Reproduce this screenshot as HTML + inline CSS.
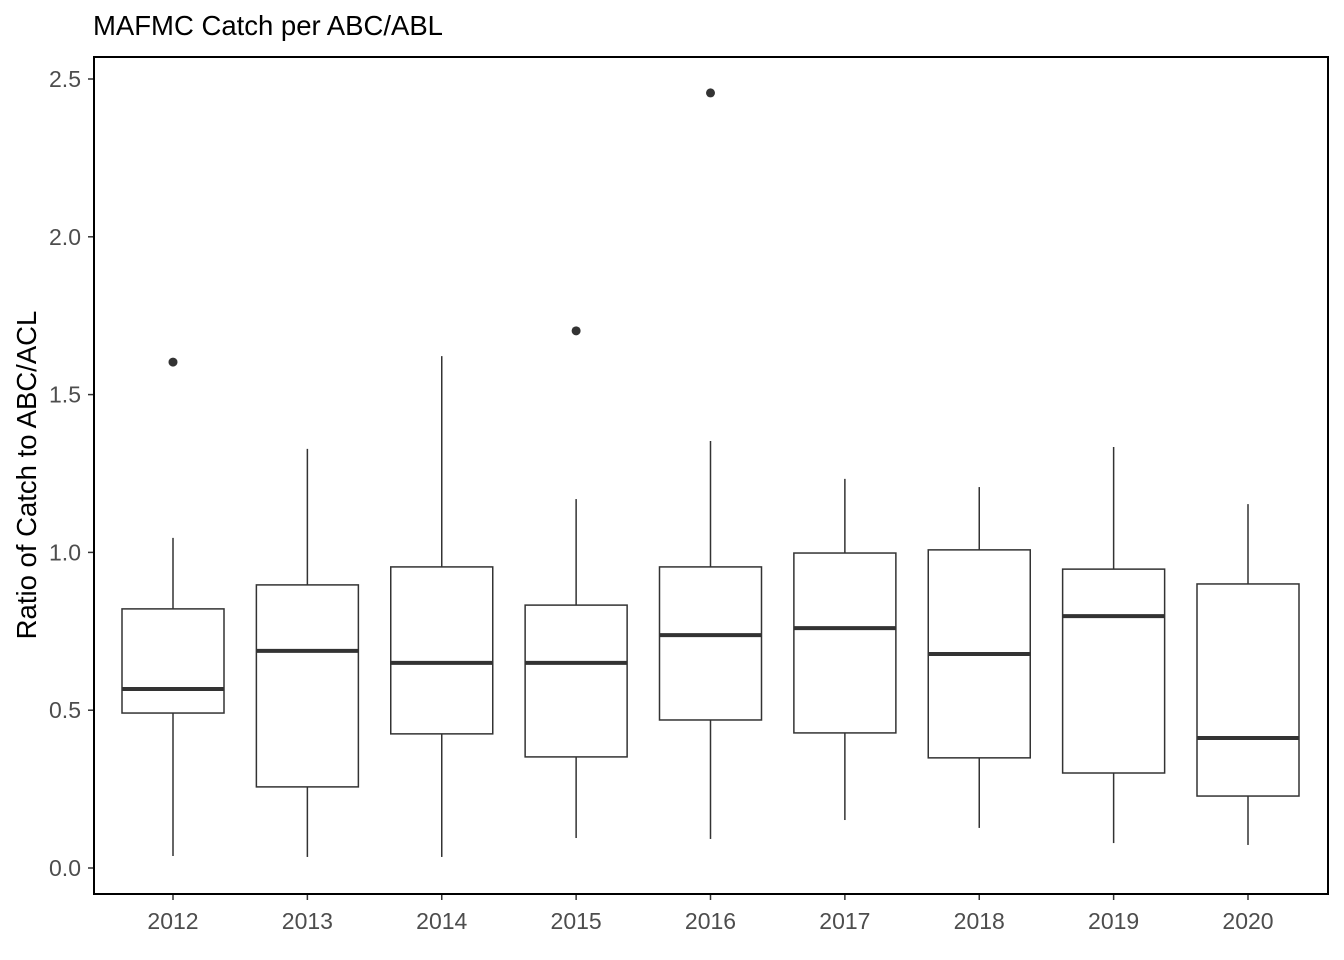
<!DOCTYPE html>
<html><head><meta charset="utf-8"><style>
body{margin:0;background:#fff;}
svg{display:block;font-family:"Liberation Sans",Arial,sans-serif;}
</style></head><body>
<svg id="chart" width="1344" height="960"></svg>
<script>
const years=["2012","2013","2014","2015","2016","2017","2018","2019","2020"];
const whiskerLow=[0.038,0.035,0.035,0.095,0.092,0.152,0.127,0.079,0.073];
const q1=[0.491,0.257,0.425,0.352,0.469,0.428,0.349,0.301,0.228];
const median=[0.567,0.688,0.650,0.650,0.738,0.760,0.678,0.798,0.412];
const q3=[0.821,0.897,0.954,0.833,0.954,0.998,1.008,0.947,0.900];
const whiskerHigh=[1.046,1.328,1.622,1.169,1.353,1.233,1.207,1.334,1.153];
const outlierYear=["2012","2015","2016"];
const outlierVal=[1.603,1.702,2.456];
const yTicks=[0,0.5,1,1.5,2,2.5];
const yTickLabels=["0.0","0.5","1.0","1.5","2.0","2.5"];

const NS="http://www.w3.org/2000/svg";
const svg=document.getElementById('chart');
const L=94,R=1328,T=57,B=894;
const y=v=>868-v*315.6;
const x=c=>173+years.indexOf(c)*134.375;
const bw=102;
function mk(tag,attrs,parent){const e=document.createElementNS(NS,tag);for(const k in attrs)e.setAttribute(k,attrs[k]);(parent||svg).appendChild(e);return e;}

const title=mk('text',{x:93,y:35,'font-size':27.5,fill:'#000'});title.textContent="MAFMC Catch per ABC/ABL";



const yt=mk('text',{transform:'translate(36,475) rotate(-90)','text-anchor':'middle','font-size':27.5,fill:'#000'});yt.textContent="Ratio of Catch to ABC/ACL";



yTicks.forEach((v,i)=>{
  const t=mk('line',{x1:88,x2:94,y1:y(v),y2:y(v),stroke:'#333','stroke-width':1.5});
  
  
  const l=mk('text',{x:81,y:y(v)+8,'text-anchor':'end','font-size':23,fill:'#4d4d4d'});l.textContent=yTickLabels[i];
  
  
});
years.forEach((c,i)=>{
  const cx=x(c);
  const t=mk('line',{x1:cx,x2:cx,y1:894,y2:900,stroke:'#333','stroke-width':1.5});
  
  
  const l=mk('text',{x:cx,y:929,'text-anchor':'middle','font-size':23,fill:'#4d4d4d'});l.textContent=c;
  
  
  const g=mk('g',{});
  
  
  mk('line',{x1:cx,x2:cx,y1:y(whiskerLow[i]),y2:y(q1[i]),stroke:'#333','stroke-width':1.5},g);
  mk('line',{x1:cx,x2:cx,y1:y(q3[i]),y2:y(whiskerHigh[i]),stroke:'#333','stroke-width':1.5},g);
  mk('rect',{x:cx-bw/2,y:y(q3[i]),width:bw,height:y(q1[i])-y(q3[i]),fill:'#fff',stroke:'#333','stroke-width':1.5},g);
  mk('line',{x1:cx-bw/2,x2:cx+bw/2,y1:y(median[i]),y2:y(median[i]),stroke:'#333','stroke-width':4},g);
});
outlierYear.forEach((c,i)=>{
  const p=mk('circle',{cx:x(c),cy:y(outlierVal[i]),r:4.5,fill:'#333'});
  
  
});
const f=mk('rect',{x:L,y:T,width:R-L,height:B-T,fill:'none',stroke:'#000','stroke-width':2});


</script>
</body></html>
